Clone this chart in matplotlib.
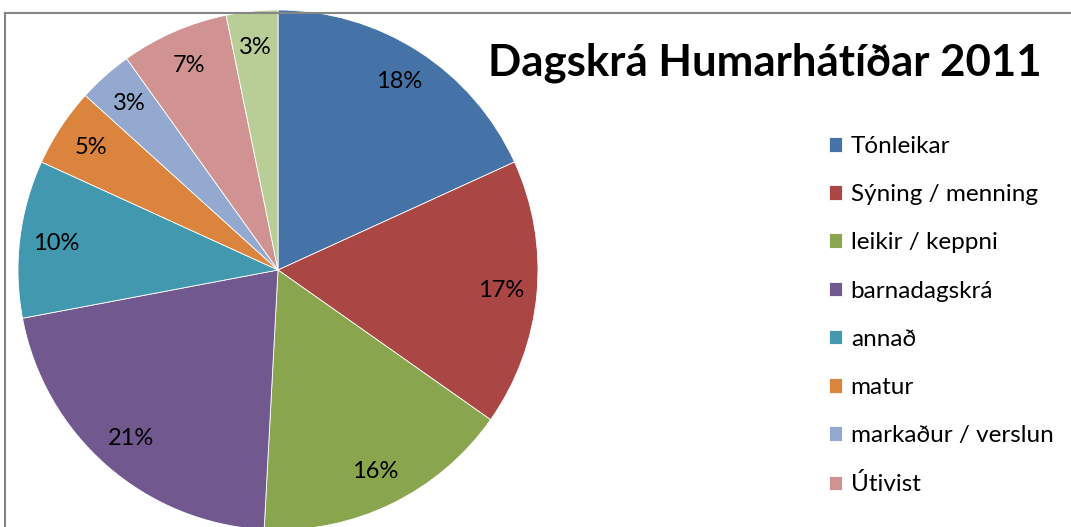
import matplotlib
matplotlib.use("Agg")
import matplotlib.pyplot as plt
from matplotlib.lines import Line2D

plt.rcParams['font.family'] = ['Lato', 'DejaVu Sans']

labels = ["Tónleikar", "Sýning / menning", "leikir / keppni", "barnadagskrá",
          "annað", "matur", "markaður / verslun", "Útivist", "Íþróttir"]
values = [18.2, 16.6, 16.1, 21.2, 9.8, 4.9, 3.4, 6.7, 3.2]
colors = ["#4572A7", "#AA4643", "#89A54E", "#71588F", "#4198AF",
          "#DB843D", "#93A9CF", "#D19392", "#B9CD96"]
title = "Dagskrá Humarhátíðar 2011"

W, H = 1071, 527
fig = plt.figure(figsize=(W / 100, H / 100), dpi=100)

# outer chart border (only top and left edges visible)
ytop = 1 - 13 / H
xleft = 5 / W
fig.lines.append(Line2D([xleft, 1.1], [ytop, ytop], transform=fig.transFigure,
                        color="#868686", linewidth=1.5))
fig.lines.append(Line2D([xleft, xleft], [-0.1, ytop], transform=fig.transFigure,
                        color="#868686", linewidth=1.5))

cx, cy, r = 278, H - 270, 260
ax = fig.add_axes([(cx - r) / W, (cy - r) / H, 2 * r / W, 2 * r / H])
wedges, texts, autotexts = ax.pie(values, colors=colors, startangle=90, counterclock=False,
                                  autopct="%.0f%%", pctdistance=0.86,
                                  wedgeprops=dict(edgecolor="white", linewidth=0.6),
                                  textprops=dict(fontsize=17, color="black"))
ax.set_xlim(-1, 1)
ax.set_ylim(-1, 1)

fig.text(765 / W, 1 - 63 / H, title, fontsize=31.5, fontweight="bold",
         ha="center", va="center")

fig.legend(wedges[:8], labels[:8], loc="upper left", bbox_to_anchor=(807 / W, 1 - 114 / H),
           frameon=False, fontsize=17.5, handlelength=0.55, handleheight=0.55,
           handletextpad=0.35, labelspacing=1.12)

fig.savefig("out.png", dpi=100)
